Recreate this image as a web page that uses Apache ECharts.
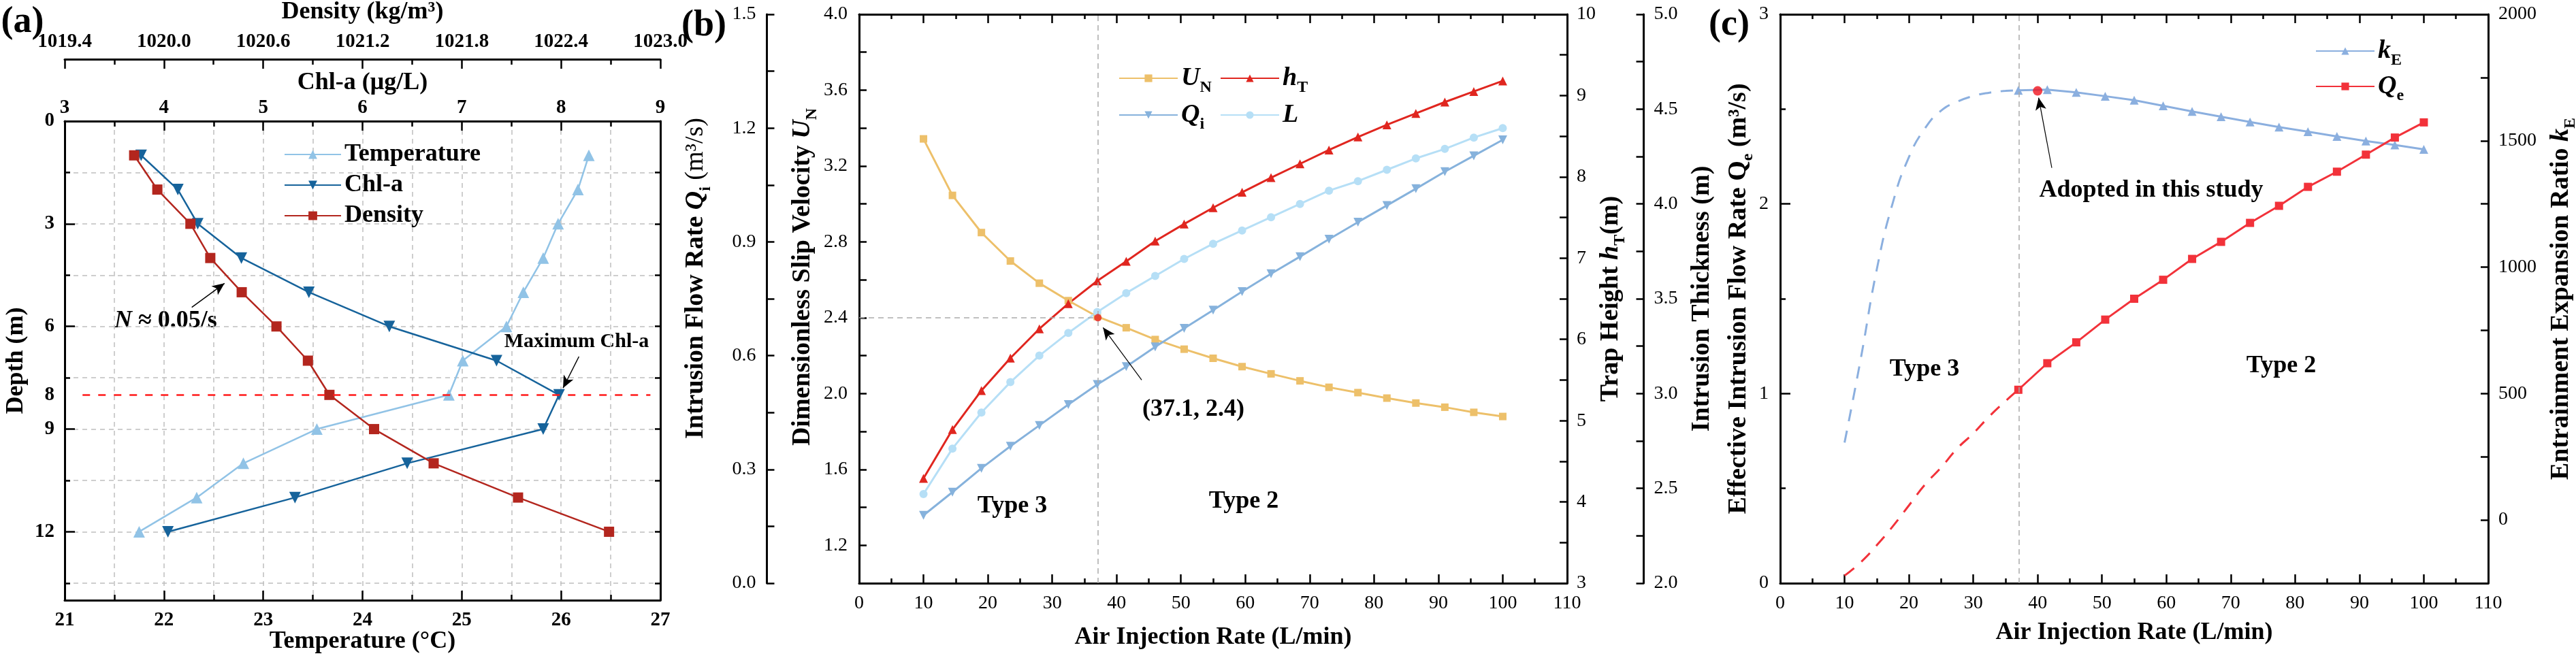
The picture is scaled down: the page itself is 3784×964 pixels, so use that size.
<!DOCTYPE html>
<html>
<head>
<meta charset="utf-8">
<script src="https://cdn.jsdelivr.net/npm/echarts@6/dist/echarts.min.js"></script>
<style>
html, body { margin: 0; padding: 0; background: #fff; }
#main { width: 3784px; height: 964px; }
</style>
</head>
<body>
<div id="main"></div>
<script>
// ---- panel (a): vertical profiles
var depth = [1, 2, 3, 4, 5, 6, 7, 8, 9, 10, 11, 12];
var temperature = [26.28, 26.17, 25.97, 25.82, 25.62, 25.45, 25.01, 24.87, 23.54, 22.80, 22.33, 21.75];
var chla = [3.77, 4.14, 4.34, 4.78, 5.46, 6.27, 7.35, 7.98, 7.82, 6.45, 5.32, 4.04];
var density = [1019.82, 1019.96, 1020.16, 1020.28, 1020.47, 1020.68, 1020.87, 1021.00, 1021.27, 1021.63, 1022.14, 1022.69];

// ---- panel (b): plume parameters vs air injection rate
var airRate = [10, 14.5, 19, 23.5, 28, 32.5, 37, 41.5, 46, 50.5, 55, 59.5, 64, 68.5, 73, 77.5, 82, 86.5, 91, 95.5, 100];
var uN = [3.343, 3.045, 2.849, 2.699, 2.582, 2.490, 2.406, 2.347, 2.285, 2.234, 2.186, 2.142, 2.104, 2.067, 2.033, 2.005, 1.976, 1.950, 1.928, 1.901, 1.879];
var hT = [4.29, 4.89, 5.37, 5.77, 6.13, 6.44, 6.72, 6.96, 7.21, 7.42, 7.62, 7.81, 7.99, 8.16, 8.33, 8.49, 8.64, 8.78, 8.92, 9.05, 9.18];
var qi = [0.179, 0.240, 0.303, 0.361, 0.416, 0.471, 0.524, 0.571, 0.623, 0.672, 0.720, 0.769, 0.816, 0.861, 0.907, 0.952, 0.996, 1.040, 1.085, 1.127, 1.169];
var thickness = [2.47, 2.71, 2.90, 3.06, 3.20, 3.32, 3.43, 3.53, 3.62, 3.71, 3.79, 3.86, 3.93, 4.00, 4.07, 4.12, 4.18, 4.24, 4.29, 4.35, 4.40];
var crossPoint = [37.1, 2.4];

// ---- panel (c): effective intrusion flow rate and entrainment ratio
var rateC = [37, 41.5, 46, 50.5, 55, 59.5, 64, 68.5, 73, 77.5, 82, 86.5, 91, 95.5, 100];
var kE = [1699, 1702, 1691, 1676, 1660, 1638, 1616, 1595, 1574, 1554, 1536, 1517, 1499, 1483, 1466];
var qe = [1.02, 1.16, 1.27, 1.39, 1.50, 1.60, 1.71, 1.80, 1.90, 1.99, 2.09, 2.17, 2.26, 2.35, 2.43];
var rateDash = [10, 12.5, 15, 17.5, 20, 22.5, 25, 27.5, 30, 32.5, 35, 37];
var kEDash = [306, 635, 990, 1255, 1435, 1549, 1619, 1654, 1677, 1690, 1697, 1699];
var qeDash = [0.04, 0.11, 0.20, 0.30, 0.41, 0.52, 0.61, 0.71, 0.79, 0.88, 0.96, 1.02];
var adoptedPoint = [40, 1697];

var FF = 'Liberation Serif';
var C = {
  temp: '#91C3E6', chla: '#16639B', dens: '#B3261E',
  un: '#EDC06A', ht: '#E0261F', qi: '#86B2DC', L: '#B6DFF6',
  ke: '#8BAFDF', qe: '#F2323A', grey: '#BEBEBE'
};

var axLine = { show: true, onZero: false, lineStyle: { color: '#000', width: 3 } };
var noLine = { show: false, onZero: false };
function tick(len) { return { show: true, inside: true, length: len, lineStyle: { color: '#000', width: 2.5 } }; }
function minor(len) { return { show: true, splitNumber: 2, length: len, lineStyle: { color: '#000', width: 2.5 } }; }
function lbl(bold, size, margin, fmt) {
  return { show: true, color: '#000', fontFamily: FF, fontSize: size, fontWeight: bold ? 'bold' : 'normal', margin: margin, formatter: fmt };
}
var greyLine = { show: true, lineStyle: { color: C.grey, width: 1.5, type: [7, 6] } };
var nameFont = { fontFamily: FF, fontSize: 36, fontWeight: 'bold', color: '#000' };
var rich = {
  b: { fontFamily: FF, fontSize: 38, fontWeight: 'bold', color: '#000' },
  bi: { fontFamily: FF, fontSize: 38, fontWeight: 'bold', fontStyle: 'italic', color: '#000' },
  r: { fontFamily: FF, fontSize: 38, fontWeight: 'normal', color: '#000' },
  sub: { fontFamily: FF, fontSize: 24, fontWeight: 'bold', color: '#000', verticalAlign: 'bottom', lineHeight: 52 }
};
function richName(pad) {
  return { fontFamily: FF, fontSize: 38, fontWeight: 'bold', color: '#000', rich: rich, padding: pad || 0 };
}
function fix1(v) { return v.toFixed(1); }

var legendRich = {
  i: { fontFamily: FF, fontSize: 38, fontWeight: 'bold', fontStyle: 'italic', color: '#000' },
  s: { fontFamily: FF, fontSize: 24, fontWeight: 'bold', color: '#000', verticalAlign: 'bottom', lineHeight: 52 }
};
var legendNames = {
  UN: '{i|U}{s|N}', hT: '{i|h}{s|T}', Qi: '{i|Q}{s|i}', L: '{i|L}', kE: '{i|k}{s|E}', Qe: '{i|Q}{s|e}'
};
function richLegend(names, left, top, gap) {
  return {
    data: names, orient: 'vertical', left: left, top: top, itemWidth: 86, itemHeight: 14, itemGap: gap,
    formatter: function (n) { return legendNames[n]; },
    textStyle: { fontFamily: FF, fontSize: 38, color: '#000', rich: legendRich }
  };
}

function pairs(xs, ys) { return xs.map(function (x, i) { return [x, ys[i]]; }); }
function profile(vals) { return depth.map(function (d, i) { return [vals[i], d]; }); }

var my_chart = echarts.init(document.getElementById('main'));

var option = {
  animation: false,
  backgroundColor: '#fff',
  textStyle: { fontFamily: FF },
  grid: [
    { left: 95, top: 178, width: 875, height: 704, outerBoundsMode: 'none' },
    { left: 1262, top: 21, width: 1040, height: 836, outerBoundsMode: 'none' },
    { left: 2615, top: 21, width: 1040, height: 836, outerBoundsMode: 'none' }
  ],
  legend: [
    {
      data: ['Temperature', 'Chl-a', 'Density'], orient: 'vertical', left: 412, top: 204,
      itemWidth: 83, itemHeight: 16, itemGap: 9,
      textStyle: { fontFamily: FF, fontSize: 36, fontWeight: 'bold', color: '#000', lineHeight: 36 }
    },
    richLegend(['UN', 'Qi'], 1638, 91, 9),
    richLegend(['hT', 'L'], 1787, 91, 9),
    richLegend(['kE', 'Qe'], 3396, 51, 7)
  ],
  xAxis: [
    { // 0 temperature (a)
      type: 'value', gridIndex: 0, position: 'bottom', min: 21, max: 27, interval: 1,
      axisLine: axLine, axisTick: tick(14), minorTick: minor(8),
      axisLabel: lbl(true, 29, 15), splitLine: greyLine, minorSplitLine: greyLine,
      name: 'Temperature (°C)', nameLocation: 'middle', nameGap: 43, nameMoveOverlap: false, nameTextStyle: nameFont
    },
    { // 1 chl-a (a)
      type: 'value', gridIndex: 0, position: 'top', min: 3, max: 9, interval: 1,
      axisLine: axLine, axisTick: tick(14), minorTick: minor(8),
      axisLabel: lbl(true, 29, 5), splitLine: { show: false },
      name: 'Chl-a (μg/L)', nameLocation: 'middle', nameGap: 38, nameMoveOverlap: false, nameTextStyle: nameFont
    },
    { // 2 density (a)
      type: 'value', gridIndex: 0, position: 'top', offset: 91, min: 1019.4, max: 1023.0, interval: 0.6,
      axisLine: axLine, axisTick: tick(14), minorTick: minor(8),
      axisLabel: lbl(true, 29, 11, fix1), splitLine: { show: false },
      name: 'Density (kg/m³)', nameLocation: 'middle', nameGap: 51, nameMoveOverlap: false, nameTextStyle: nameFont
    },
    { // 3 air rate (b)
      type: 'value', gridIndex: 1, position: 'bottom', min: 0, max: 110, interval: 10,
      axisLine: axLine, axisTick: tick(13), minorTick: minor(7),
      axisLabel: lbl(false, 28, 16), splitLine: { show: false },
      name: 'Air Injection Rate (L/min)', nameLocation: 'middle', nameGap: 62, nameMoveOverlap: false, nameTextStyle: nameFont
    },
    { // 4 top frame (b)
      type: 'value', gridIndex: 1, position: 'top', min: 0, max: 110, interval: 10,
      axisLine: axLine, axisTick: tick(13), minorTick: minor(7),
      axisLabel: { show: false }, splitLine: { show: false }
    },
    { // 5 air rate (c)
      type: 'value', gridIndex: 2, position: 'bottom', min: 0, max: 110, interval: 10,
      axisLine: axLine, axisTick: tick(13), minorTick: minor(7),
      axisLabel: lbl(false, 28, 16), splitLine: { show: false },
      name: 'Air Injection Rate (L/min)', nameLocation: 'middle', nameGap: 55, nameMoveOverlap: false, nameTextStyle: nameFont
    },
    { // 6 top frame (c)
      type: 'value', gridIndex: 2, position: 'top', min: 0, max: 110, interval: 10,
      axisLine: axLine, axisTick: tick(13), minorTick: minor(7),
      axisLabel: { show: false }, splitLine: { show: false }
    }
  ],
  yAxis: [
    { // 0 depth grid + minor ticks (a)
      type: 'value', gridIndex: 0, position: 'left', inverse: true, min: 0, max: 14, interval: 1.5,
      axisLine: axLine, axisTick: tick(8), axisLabel: { show: false }, splitLine: greyLine,
      name: 'Depth (m)', nameLocation: 'middle', nameGap: 53, nameMoveOverlap: false, nameTextStyle: nameFont
    },
    { // 1 depth major labels (a)
      type: 'value', gridIndex: 0, position: 'left', inverse: true, min: 0, max: 14, interval: 3,
      axisLine: noLine, axisTick: tick(15), splitLine: { show: false },
      axisLabel: lbl(true, 29, 15, function (v) { return v <= 12 ? String(v) : ''; })
    },
    { // 2 extra "8" label (a)
      type: 'value', gridIndex: 0, position: 'left', inverse: true, min: 0, max: 14, interval: 1,
      axisLine: noLine, axisTick: { show: false }, splitLine: { show: false },
      axisLabel: lbl(true, 29, 15, function (v) { return v === 8 ? '8' : ''; })
    },
    { // 3 right frame (a)
      type: 'value', gridIndex: 0, position: 'right', inverse: true, min: 0, max: 14, interval: 1.5,
      axisLine: axLine, axisTick: tick(8), axisLabel: { show: false }, splitLine: { show: false }
    },
    { // 4 Qi (b)
      type: 'value', gridIndex: 1, position: 'left', offset: 135.5, min: 0, max: 1.5, interval: 0.3,
      axisLine: axLine, axisTick: tick(11), minorTick: minor(11),
      axisLabel: lbl(false, 28, 16, fix1), splitLine: { show: false },
      name: '{b|Intrusion Flow Rate }{bi|Q}{sub|i}{r| (m³/s)}', nameLocation: 'middle', nameGap: 78,
      nameMoveOverlap: false, nameTextStyle: richName([0, 0, 0, 60])
    },
    { // 5 U_N (b)
      type: 'value', gridIndex: 1, position: 'left', min: 1, max: 4, interval: 0.2,
      axisLine: axLine, axisTick: tick(11), splitLine: { show: false },
      axisLabel: lbl(false, 28, 17, function (v) {
        var k = Math.round(v * 10);
        return (k >= 12 && (k - 12) % 4 === 0) ? (k / 10).toFixed(1) : '';
      }),
      name: '{b|Dimensionless Slip Velocity }{bi|U}{sub|N}', nameLocation: 'middle', nameGap: 57,
      nameMoveOverlap: false, nameTextStyle: richName([0, 0, 0, 64])
    },
    { // 6 h_T (b)
      type: 'value', gridIndex: 1, position: 'right', min: 3, max: 10, interval: 1,
      axisLine: axLine, axisTick: tick(11), minorTick: minor(11),
      axisLabel: lbl(false, 28, 14), splitLine: { show: false },
      name: '{b|Trap Height }{bi|h}{sub|T}{b|(m)}', nameLocation: 'middle', nameGap: 38,
      nameMoveOverlap: false, nameTextStyle: richName()
    },
    { // 7 intrusion thickness (b)
      type: 'value', gridIndex: 1, position: 'right', offset: 112.5, min: 2, max: 5, interval: 0.5,
      axisLine: axLine, axisTick: tick(11), minorTick: minor(11),
      axisLabel: lbl(false, 28, 15, fix1), splitLine: { show: false },
      name: 'Intrusion Thickness (m)', nameLocation: 'middle', nameGap: 67,
      nameMoveOverlap: false, nameTextStyle: { fontFamily: FF, fontSize: 38, fontWeight: 'bold', color: '#000' }
    },
    { // 8 Q_e (c)
      type: 'value', gridIndex: 2, position: 'left', min: 0, max: 3, interval: 1,
      axisLine: axLine, axisTick: tick(15), minorTick: minor(8),
      axisLabel: lbl(false, 28, 17), splitLine: { show: false },
      name: '{b|Effective Intrusion Flow Rate Q}{sub|e}{b| (m³/s)}', nameLocation: 'middle', nameGap: 35,
      nameMoveOverlap: false, nameTextStyle: richName()
    },
    { // 9 k_E (c)
      type: 'value', gridIndex: 2, position: 'right', min: -250, max: 2000, interval: 250,
      axisLine: axLine, axisTick: tick(11), splitLine: { show: false },
      axisLabel: lbl(false, 28, 15, function (v) { return (v >= 0 && v % 500 === 0) ? String(v) : ''; }),
      name: '{b|Entrainment Expansion Ratio }{bi|k}{sub|E}', nameLocation: 'middle', nameGap: 81,
      nameMoveOverlap: false, nameTextStyle: richName()
    }
  ],
  series: [
    // ---- (a)
    {
      name: 'Temperature', type: 'line', xAxisIndex: 0, yAxisIndex: 0, data: profile(temperature),
      symbol: 'triangle', symbolSize: 17, itemStyle: { color: C.temp }, lineStyle: { color: C.temp, width: 2.5 },
      markLine: {
        silent: true, symbol: ['none', 'none'], label: { show: false },
        data: [
          [{ coord: [21.18, 8], lineStyle: { color: '#FF1A1A', width: 2.5, type: [11, 12] } }, { coord: [26.9, 8] }]
        ]
      }
    },
    {
      name: 'Chl-a', type: 'line', xAxisIndex: 1, yAxisIndex: 0, data: profile(chla),
      symbol: 'triangle', symbolRotate: 180, symbolSize: 17, itemStyle: { color: C.chla }, lineStyle: { color: C.chla, width: 2.5 },
      markLine: {
        silent: true, symbol: ['none', 'none'], symbolSize: [12, 18], label: { show: false },
        lineStyle: { color: '#000', width: 1.5, type: 'solid' },
        data: [
          [{ coord: [4.28, 5.44], symbol: 'none' }, { coord: [4.61, 4.74], symbol: 'arrow' }],
          [{ coord: [8.18, 6.88], symbol: 'none' }, { coord: [8.02, 7.8], symbol: 'arrow' }]
        ]
      }
    },
    {
      name: 'Density', type: 'line', xAxisIndex: 2, yAxisIndex: 0, data: profile(density),
      symbol: 'rect', symbolSize: 15, itemStyle: { color: C.dens }, lineStyle: { color: C.dens, width: 2.5 }
    },
    // ---- (b)
    {
      name: 'UN', type: 'line', xAxisIndex: 3, yAxisIndex: 5, data: pairs(airRate, uN),
      symbol: 'rect', symbolSize: 11, itemStyle: { color: C.un }, lineStyle: { color: C.un, width: 3 },
      markLine: {
        silent: true, symbol: ['none', 'none'], symbolSize: [12, 18], label: { show: false },
        lineStyle: { color: '#AAAAAA', width: 1.5, type: [8, 6] },
        data: [
          { xAxis: crossPoint[0] },
          [{ coord: [0, crossPoint[1]] }, { coord: crossPoint }],
          [{ coord: [43.9, 2.072], symbol: 'none', lineStyle: { color: '#000', width: 1.2, type: 'solid' } },
           { coord: [37.9, 2.348], symbol: 'arrow' }]
        ]
      }
    },
    {
      name: 'hT', type: 'line', xAxisIndex: 3, yAxisIndex: 6, data: pairs(airRate, hT),
      symbol: 'triangle', symbolSize: 13, itemStyle: { color: C.ht }, lineStyle: { color: C.ht, width: 3 }
    },
    {
      name: 'Qi', type: 'line', xAxisIndex: 3, yAxisIndex: 4, data: pairs(airRate, qi),
      symbol: 'triangle', symbolRotate: 180, symbolSize: 13, itemStyle: { color: C.qi }, lineStyle: { color: C.qi, width: 3 }
    },
    {
      name: 'L', type: 'line', xAxisIndex: 3, yAxisIndex: 7, data: pairs(airRate, thickness),
      symbol: 'circle', symbolSize: 12, itemStyle: { color: C.L }, lineStyle: { color: C.L, width: 3 }
    },
    {
      name: 'cross', type: 'scatter', xAxisIndex: 3, yAxisIndex: 5, data: [crossPoint],
      symbol: 'circle', symbolSize: 11, itemStyle: { color: '#E8231F' }, z: 5
    },
    // ---- (c)
    {
      name: 'kE', type: 'line', xAxisIndex: 5, yAxisIndex: 9, data: pairs(rateC, kE),
      symbol: 'triangle', symbolSize: 13, itemStyle: { color: C.ke }, lineStyle: { color: C.ke, width: 3 }
    },
    {
      name: 'kE-type3', type: 'line', xAxisIndex: 5, yAxisIndex: 9, data: pairs(rateDash, kEDash),
      smooth: true, symbol: 'none', lineStyle: { color: C.ke, width: 3, type: [18, 14] }
    },
    {
      name: 'Qe', type: 'line', xAxisIndex: 5, yAxisIndex: 8, data: pairs(rateC, qe),
      symbol: 'rect', symbolSize: 12, itemStyle: { color: C.qe }, lineStyle: { color: C.qe, width: 3 },
      markLine: {
        silent: true, symbol: ['none', 'none'], symbolSize: [12, 18], label: { show: false },
        lineStyle: { color: '#AAAAAA', width: 1.5, type: [8, 6] },
        data: [
          { xAxis: crossPoint[0] },
          [{ coord: [42.2, 2.19], symbol: 'none', lineStyle: { color: '#000', width: 1.2, type: 'solid' } },
           { coord: [40.15, 2.56], symbol: 'arrow' }]
        ]
      }
    },
    {
      name: 'Qe-type3', type: 'line', xAxisIndex: 5, yAxisIndex: 8, data: pairs(rateDash, qeDash),
      smooth: true, symbol: 'none', lineStyle: { color: C.qe, width: 3, type: [18, 14] }
    },
    {
      name: 'adopted', type: 'scatter', xAxisIndex: 5, yAxisIndex: 9, data: [adoptedPoint],
      symbol: 'circle', symbolSize: 14, itemStyle: { color: '#F0141E' }, z: 5
    }
  ],
  graphic: [
    { type: 'text', x: 33, y: 33, style: { text: '(a)', fill: '#000', font: 'bold 54px "Liberation Serif"', align: 'center', verticalAlign: 'middle' } },
    { type: 'text', x: 1034, y: 38, style: { text: '(b)', fill: '#000', font: 'bold 54px "Liberation Serif"', align: 'center', verticalAlign: 'middle' } },
    { type: 'text', x: 2540, y: 37, style: { text: '(c)', fill: '#000', font: 'bold 54px "Liberation Serif"', align: 'center', verticalAlign: 'middle' } },
    {
      type: 'text', x: 168, y: 472, style: {
        text: '{i|N}{b| ≈ 0.05/s}', align: 'left', verticalAlign: 'middle',
        rich: {
          i: { fontFamily: FF, fontSize: 36, fontWeight: 'bold', fontStyle: 'italic', fill: '#000' },
          b: { fontFamily: FF, fontSize: 36, fontWeight: 'bold', fill: '#000' }
        }
      }
    },
    { type: 'text', x: 847, y: 502, style: { text: 'Maximum Chl-a', fill: '#000', font: 'bold 30px "Liberation Serif"', align: 'center', verticalAlign: 'middle' } },
    { type: 'text', x: 1753, y: 602, style: { text: '(37.1, 2.4)', fill: '#000', font: 'bold 36px "Liberation Serif"', align: 'center', verticalAlign: 'middle' } },
    { type: 'text', x: 1487, y: 744, style: { text: 'Type 3', fill: '#000', font: 'bold 36px "Liberation Serif"', align: 'center', verticalAlign: 'middle' } },
    { type: 'text', x: 1827, y: 737, style: { text: 'Type 2', fill: '#000', font: 'bold 36px "Liberation Serif"', align: 'center', verticalAlign: 'middle' } },
    { type: 'text', x: 2827, y: 543, style: { text: 'Type 3', fill: '#000', font: 'bold 36px "Liberation Serif"', align: 'center', verticalAlign: 'middle' } },
    { type: 'text', x: 3351, y: 538, style: { text: 'Type 2', fill: '#000', font: 'bold 36px "Liberation Serif"', align: 'center', verticalAlign: 'middle' } },
    { type: 'text', x: 3160, y: 280, style: { text: 'Adopted in this study', fill: '#000', font: 'bold 36px "Liberation Serif"', align: 'center', verticalAlign: 'middle' } }
  ]
};

option && my_chart.setOption(option);
</script>
</body>
</html>
